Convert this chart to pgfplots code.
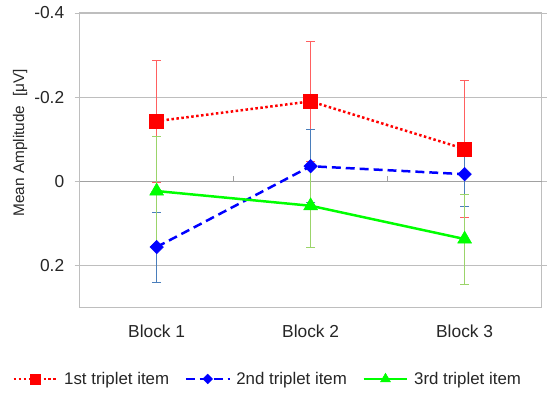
\documentclass[border=0pt]{standalone}
\usepackage{fontspec}
\setmainfont{Liberation Sans}
\usepackage{pgfplots}
\pgfplotsset{compat=1.18}
\definecolor{errred}{HTML}{FF6060}
\definecolor{errblue}{HTML}{4A7EBB}
\definecolor{errgreen}{HTML}{9BD46A}
\definecolor{framegray}{HTML}{BEBEBE}
\definecolor{pgreen}{HTML}{00FF00}
\begin{document}
\begin{tikzpicture}
\begin{axis}[name=ax, scale only axis, width=464bp, height=296bp,
  xmin=0.5, xmax=3.5, ymin=-0.4, ymax=0.3, y dir=reverse,
  xtick={1,2,3}, xticklabels={Block 1,Block 2,Block 3},
  major x tick style={draw=none},
  ytick={-0.4,-0.2,0,0.2}, yticklabels={-0.4,-0.2,0,0.2},
  ymajorgrids, grid style={framegray, line width=0.8bp},
  axis line style={framegray, line width=1.5bp},
  y tick style={framegray, line width=0.8bp}, tick align=outside, major tick length=5bp,
  ticklabel style={font=\fontsize{17.5}{20}\selectfont, text=black!85},
  xticklabel style={yshift=-9bp},
  yticklabel style={xshift=-7bp},
  ylabel={Mean Amplitude\ \ [μV]},
  ylabel style={font=\fontsize{15.5}{18}\selectfont, text=black!85, at={(axis description cs:-0.129,0.559)}, anchor=center},
  legend columns=3,
  legend style={draw=none, fill=none, inner sep=0pt, at={(axis description cs:-0.146,-0.213)}, anchor=north west,
    font=\fontsize{17}{20}\selectfont, text=black!85,
    /tikz/every odd column/.append style={column sep=4bp},
    /tikz/every even column/.append style={column sep=14bp},
    nodes={inner sep=1.5bp}},
  legend image code/.code={\draw[mark repeat=2,mark phase=2,every mark/.append style={scale=0.72}] plot coordinates {(0bp,0bp) (22bp,0bp) (44bp,0bp)};},
  clip=false,
]
\draw[framegray!85!black, line width=1.5bp] (axis cs:0.5,0) -- (axis cs:3.5,0);
\draw[framegray!85!black, line width=0.8bp] (axis cs:1.5,0) -- ([yshift=5bp]axis cs:1.5,0);
\draw[framegray!85!black, line width=0.8bp] (axis cs:2.5,0) -- ([yshift=5bp]axis cs:2.5,0);
\addplot[red, line width=2.5bp, dash pattern=on 2.5bp off 2.5bp, mark=square*, mark size=7bp,
  mark options={solid, line width=0.5bp, fill=red},
  error bars/.cd, y dir=both, y explicit,
  error bar style={errred, line width=0.8bp, solid},
  error mark options={rotate=90, errred, mark size=4.5bp, line width=0.8bp, solid}]
  coordinates {(1,-0.143) +- (0,0.145) (2,-0.19) +- (0,0.142) (3,-0.077) +- (0,0.162)};
\addlegendentry{1st triplet item}
\addplot[blue, line width=2.5bp, dash pattern=on 9bp off 5bp, mark=square*, mark size=4.8bp,
  mark options={solid, rotate=45, line width=0.5bp, fill=blue},
  error bars/.cd, y dir=both, y explicit,
  error bar style={errblue, line width=0.8bp, solid},
  error mark options={rotate=90, errblue, mark size=4.5bp, line width=0.8bp, solid}]
  coordinates {(1,0.156) +- (0,0.083) (2,-0.036) +- (0,0.087) (3,-0.017) +- (0,0.076)};
\addlegendentry{2nd triplet item}
\addplot[pgreen, line width=2.5bp, solid, mark=triangle*, mark size=8bp,
  mark options={solid, line width=0.5bp, fill=pgreen},
  error bars/.cd, y dir=both, y explicit,
  error bar style={errgreen, line width=0.8bp, solid},
  error mark options={rotate=90, errgreen, mark size=4.5bp, line width=0.8bp, solid}]
  coordinates {(1,0.023) +- (0,0.13) (2,0.058) +- (0,0.099) (3,0.137) +- (0,0.107)};
\addlegendentry{3rd triplet item}
\end{axis}
\path[use as bounding box] (ax.south west) ++(-80bp,-86bp) rectangle ++(547bp,395bp);
\end{tikzpicture}
\end{document}
